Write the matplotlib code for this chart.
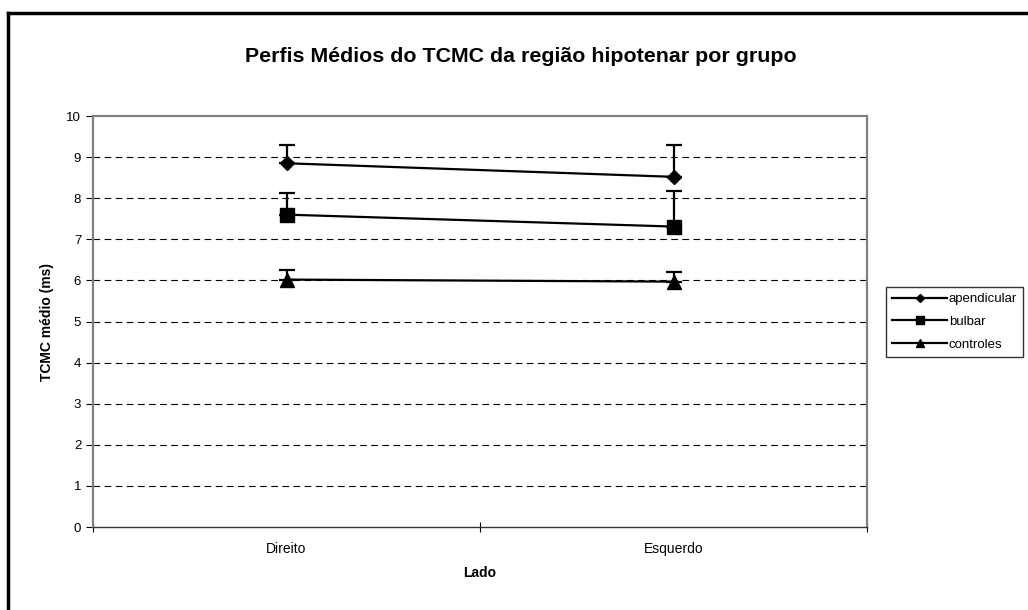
import matplotlib.pyplot as plt
from matplotlib.lines import Line2D
import numpy as np

plt.rcParams['font.family'] = ['Liberation Sans', 'DejaVu Sans']

# Médias e desvios (apenas para cima) por grupo
lados = ['Direito', 'Esquerdo']
grupos = ['apendicular', 'bulbar', 'controles']
apendicular = [8.85, 8.52]
apendicular_dp = [0.44, 0.77]
bulbar = [7.60, 7.31]
bulbar_dp = [0.53, 0.86]
controles = [6.02, 5.97]
controles_dp = [0.24, 0.23]

series = [(apendicular, apendicular_dp, 'D', 7.5),
          (bulbar, bulbar_dp, 's', 10.5),
          (controles, controles_dp, '^', 10.5)]

W, H = 1028, 610
fig = plt.figure(figsize=(W / 100, H / 100), dpi=100)
ax = fig.add_axes([93 / W, 1 - 527 / H, (867 - 93) / W, (527 - 116) / H])

x = np.arange(len(lados)) + 0.5
for vals, dp, mk, ms in series:
    ax.errorbar(x, vals, yerr=[np.zeros(len(dp)), dp], color='black', lw=1.6,
                marker=mk, ms=ms, capsize=5.5, capthick=1.6, elinewidth=1.6,
                zorder=3)

ax.set_xlim(0, len(lados))
ax.set_ylim(0, 10)
ax.set_yticks(range(0, 11))
for v in range(1, 10):
    ax.axhline(v, color='black', lw=0.8, ls=(0, (6, 4)), zorder=1)

ax.set_xticks([0, 1, 2])
ax.set_xticklabels([])
ax.set_xticks(x, minor=True)
ax.set_xticklabels(lados, minor=True)
ax.tick_params(axis='x', which='major', direction='inout', length=7, width=0.8)
ax.tick_params(axis='x', which='minor', length=0, pad=11, labelsize=10)
ax.tick_params(axis='y', direction='out', length=5, width=0.8, labelsize=9.5, pad=3.5)

for s in ['top', 'right', 'left']:
    ax.spines[s].set_color('#808080')
    ax.spines[s].set_linewidth(1.6)
ax.spines['bottom'].set_color('#333333')
ax.spines['bottom'].set_linewidth(1.0)

ax.set_xlabel('Lado', fontsize=10, fontweight='bold', labelpad=7)
ax.set_ylabel('TCMC médio (ms)', fontsize=10, fontweight='bold', labelpad=9)

fig.text(521 / W, 1 - 57 / H, 'Perfis Médios do TCMC da região hipotenar por grupo',
         ha='center', va='center', fontsize=15.4, fontweight='bold')

handles = [Line2D([], [], color='black', lw=1.6, marker=mk, ms=ms * 0.6)
           for _, _, mk, ms in series]
fig.legend(handles, grupos, loc='upper left',
           bbox_to_anchor=(886 / W, 1 - 287 / H), bbox_transform=fig.transFigure,
           fontsize=9.5, frameon=True, fancybox=False, edgecolor='black',
           handlelength=4.2, handletextpad=0.1, borderaxespad=0, borderpad=0.45,
           labelspacing=0.8)

# moldura externa
fig.add_artist(Line2D([8 / W, 8 / W], [0, 1 - 13 / H], color='black', lw=2.5,
                      transform=fig.transFigure))
fig.add_artist(Line2D([8 / W, 1], [1 - 13 / H, 1 - 13 / H], color='black', lw=2.5,
                      transform=fig.transFigure))

fig.savefig('out.png', dpi=100)
